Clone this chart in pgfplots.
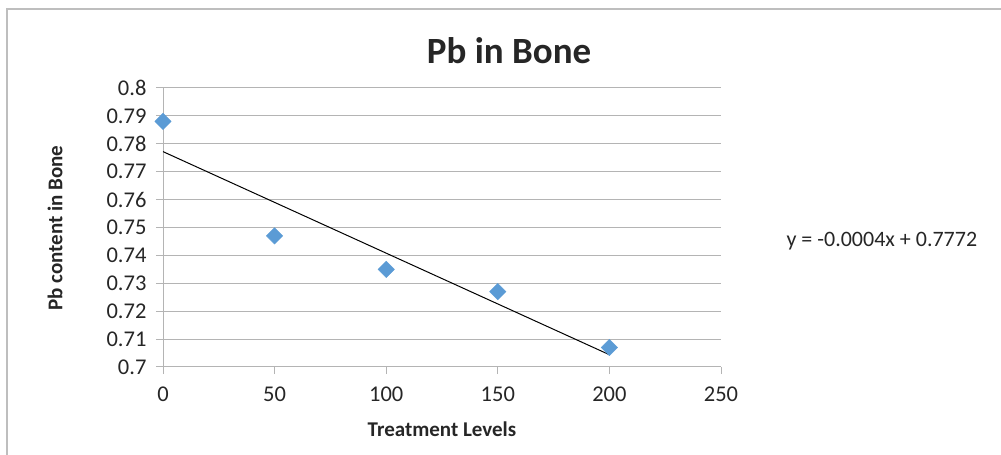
\documentclass[border=0pt]{standalone}
\usepackage{pgfplots}
\pgfplotsset{compat=1.18}
\usepackage{fontspec}
\setmainfont{Carlito}
\definecolor{gridgray}{RGB}{180,180,180}
\definecolor{framegray}{RGB}{190,190,190}
\definecolor{markblue}{RGB}{91,155,213}
\begin{document}
\begin{tikzpicture}[x=1pt,y=1pt]
  \useasboundingbox (0,0) rectangle (1001,455);
  \draw[framegray, line width=1.5pt] (7,446) -- (1010,446) -- (1010,-10) -- (7,-10) -- cycle;
  \begin{axis}[
      at={(163pt,88pt)}, anchor=south west,
      scale only axis, width=558pt, height=279pt,
      xmin=0, xmax=250, ymin=0.7, ymax=0.8,
      xtick={0,50,...,250},
      ytick={0.7,0.71,...,0.805},
      axis x line=bottom, axis y line=left,
      axis line style={gridgray, line width=1pt, -},
      tick align=outside, major tick length=7pt,
      tick style={gridgray, line width=1pt},
      ymajorgrids, grid style={gridgray, line width=1pt},
      /pgf/number format/assume math mode=true,
      yticklabel style={/pgf/number format/fixed, /pgf/number format/precision=2},
      ticklabel style={font=\fontsize{22.5}{26}\selectfont, text=black!85},
      xticklabel style={yshift=-9pt},
      yticklabel style={xshift=-6pt},
      clip=false,
    ]
    \addplot[only marks, mark=square*, mark size=5.8pt, mark options={rotate=45}, color=markblue] coordinates {
      (0,0.788) (50,0.747) (100,0.735) (150,0.727) (200,0.707)
    };
    \addplot[black, line width=1pt] coordinates {
      (0,0.7772) (200,0.7044)
    };
  \end{axis}
  \node[font=\fontsize{37}{44}\selectfont\bfseries, text=black!85] at (509,404) {Pb in Bone};
  \node[font=\fontsize{21}{25}\selectfont\bfseries, text=black!85] at (442,26) {Treatment Levels};
  \node[font=\fontsize{21}{25}\selectfont\bfseries, text=black!85, rotate=90] at (55,227) {Pb content in Bone};
  \node[font=\fontsize{22}{26}\selectfont, text=black!85, anchor=west] at (783,214) {y = -0.0004x + 0.7772};
\end{tikzpicture}
\end{document}
